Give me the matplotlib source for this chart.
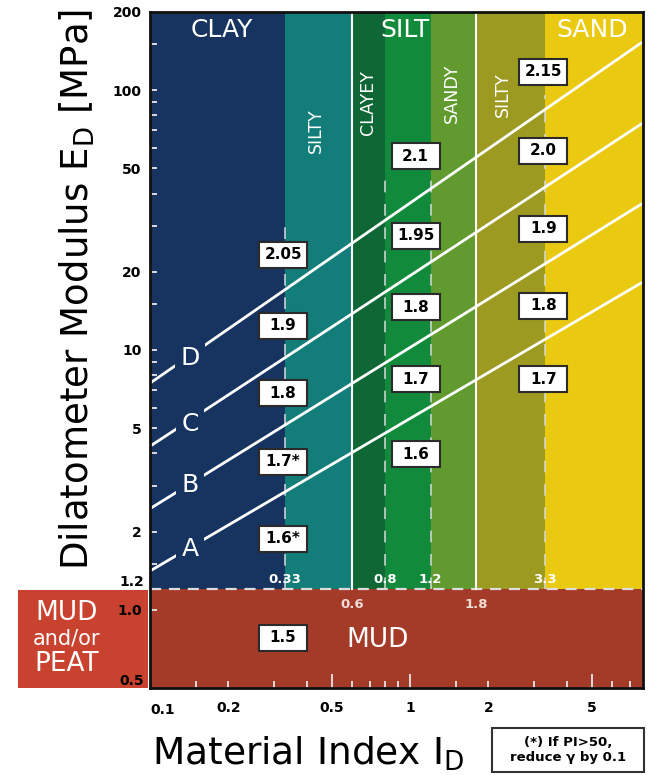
import matplotlib.pyplot as plt
from matplotlib import transforms
from matplotlib.patches import Rectangle
from matplotlib.ticker import NullFormatter

plt.rcParams['font.family'] = 'DejaVu Sans'
plt.rcParams['mathtext.default'] = 'regular'

# soil zones (material index boundaries) and colours
zone_edges = [0.1, 0.33, 0.6, 0.8, 1.2, 1.8, 3.3, 7.86]
zone_colors = ['#17335f', '#137d7a', '#106736', '#118b3b', '#619a2f', '#9d9a21', '#eac911']
mud_color = '#a43a28'
peat_color = '#c9422f'

# constant-line labels A..D : ED at ID=0.1 and ID=7.8
line_names = ['A', 'B', 'C', 'D']
line_id = [0.1, 7.8]
line_e_start = [1.41, 2.45, 4.26, 7.45]
line_e_end = [18.2, 36.6, 74.5, 153]
letter_id = 0.1425
letter_e = [1.71, 3.03, 5.18, 9.3]

# unit weight boxes (ID, ED, text)
box_id = [0.325, 0.325, 0.325, 0.325, 0.325,
          1.05, 1.05, 1.05, 1.05, 1.05,
          3.25, 3.25, 3.25, 3.25, 3.25, 0.325]
box_e = [23.3, 12.4, 6.82, 3.72, 1.88,
         55.6, 27.5, 14.6, 7.72, 3.97,
         118, 58.6, 29.3, 14.8, 7.72, 0.78]
box_text = ['2.05', '1.9', '1.8', '1.7*', '1.6*',
            '2.1', '1.95', '1.8', '1.7', '1.6',
            '2.15', '2.0', '1.9', '1.8', '1.7', '1.5']

# dashed sub-boundaries and where they start (top ED)
dash_id = [0.33, 0.8, 1.2, 3.3]
dash_top = [30, 47, 47, 96]
solid_id = [0.6, 1.8]

fig = plt.figure(figsize=(6.52, 7.75), dpi=100)
ax = fig.add_axes([150 / 652, 87 / 775, 493 / 652, 676 / 775])
ax.set_xscale('log')
ax.set_yscale('log')
ax.set_autoscale_on(False)
ax.set_xlim(zone_edges[0], zone_edges[-1])
ax.set_ylim(0.5, 200)

for x0, x1, c in zip(zone_edges[:-1], zone_edges[1:], zone_colors):
    ax.fill_between([x0, x1], 1.2, 200, color=c, lw=0, zorder=1)
ax.axhspan(0.5, 1.2, color=mud_color, lw=0, zorder=1)
ax.axhline(1.2, color='#dcdcdc', lw=1.6, dashes=(5, 3.5), zorder=2)

for x in solid_id:
    ax.plot([x, x], [1.2, 200], color='white', lw=1.5, zorder=2)
for x, top in zip(dash_id, dash_top):
    ax.plot([x, x], [1.2, top], color='#d8d8d8', lw=1.4, dashes=(6, 6), alpha=0.8, zorder=2)

for name, e0, e1, ey in zip(line_names, line_e_start, line_e_end, letter_e):
    ax.plot(line_id, [e0, e1], color='white', lw=2, zorder=3, solid_capstyle='butt')
    ax.text(letter_id, ey, name, color='white', fontsize=18, ha='center', va='center',
            zorder=4, bbox=dict(boxstyle='square,pad=0.2', fc=zone_colors[0], ec='none'))

for x, y, t in zip(box_id, box_e, box_text):
    tr = fig.dpi_scale_trans + transforms.ScaledTranslation(x, y, ax.transData)
    ax.add_patch(Rectangle((-0.24, -0.13), 0.48, 0.26, transform=tr, fc='white',
                           ec='#2b2b2b', lw=1.5, zorder=5))
    ax.text(x, y, t, fontsize=11, fontweight='bold', ha='center', va='center', zorder=6)

# zone names
for x, t in zip([0.189, 0.96, 5.0], ['CLAY', 'SILT', 'SAND']):
    ax.text(x, 171, t, color='white', fontsize=18, ha='center', va='center', zorder=4)
for x, y, t in zip([0.435, 0.69, 1.45, 2.28], [70, 90, 97, 96],
                   ['SILTY', 'CLAYEY', 'SANDY', 'SILTY']):
    ax.text(x, y, t, color='white', fontsize=12.5, rotation=90, ha='center', va='center', zorder=4)

for x, t in zip(dash_id, ['0.33', '0.8', '1.2', '3.3']):
    ax.text(x, 1.24, t, color='white', fontsize=9.5, fontweight='bold', ha='center', va='bottom', zorder=4)
for x, t in zip(solid_id, ['0.6', '1.8']):
    ax.text(x, 1.05, t, color='#f2dcd6', fontsize=9.5, fontweight='bold', ha='center', va='center', zorder=4)
ax.text(0.753, 0.766, 'MUD', color='white', fontsize=19, ha='center', va='center', zorder=4)

# ticks
ax.set_yticks([200, 100, 50, 20, 10, 5, 2, 1.0],
              labels=['200', '100', '50', '20', '10', '5', '2', '1.0'])
ax.set_yticks([150, 90, 80, 70, 60, 40, 30, 15, 9, 8, 7, 6, 4, 3, 1.5], minor=True)
ax.yaxis.set_minor_formatter(NullFormatter())
ax.set_xticks([0.5, 1, 5], labels=['0.5', '1', '5'])
minor_x = [0.15, 0.2, 0.3, 0.4, 0.6, 0.7, 0.8, 0.9, 1.5, 2, 3, 4, 6, 7]
ax.set_xticks(minor_x, labels=['0.2' if v == 0.2 else '2' if v == 2 else '' for v in minor_x], minor=True)
ax.tick_params(axis='both', which='both', direction='in', color='#e6e6e6', width=1.3,
               labelsize=10)
ax.tick_params(axis='y', which='both', length=5, pad=6)
ax.tick_params(axis='x', which='major', length=10, pad=9)
ax.tick_params(axis='x', which='minor', length=5, pad=9)
for lab in ax.get_xticklabels(which='both') + ax.get_yticklabels():
    lab.set_fontweight('bold')
ylab_tr = transforms.blended_transform_factory(ax.transAxes, ax.transData)
ax.text(-0.012, 1.2, '1.2', transform=ylab_tr, fontsize=10, fontweight='bold', ha='right', va='bottom')
ax.text(-0.012, 0.5, '0.5', transform=ylab_tr, fontsize=10, fontweight='bold', ha='right', va='bottom')
xlab_tr = transforms.blended_transform_factory(ax.transData, ax.transAxes)
ax.text(0.1, -0.022, '0.1', transform=xlab_tr, fontsize=10, fontweight='bold', ha='left', va='top')

for s in ax.spines.values():
    s.set_linewidth(2)
    s.set_color('#111111')
    s.set_zorder(7)

# mud / peat legend block left of the axis
fig.add_artist(Rectangle((18 / 652, 87 / 775), 130 / 652, 98 / 775, transform=fig.transFigure,
                         fc=peat_color, ec='none', zorder=-1))
fig.text(67 / 652, 1 - 613 / 775, 'MUD', color='white', fontsize=19, ha='center', va='center')
fig.text(67 / 652, 1 - 638 / 775, 'and/or', color='white', fontsize=15, ha='center', va='center')
fig.text(67 / 652, 1 - 664 / 775, 'PEAT', color='white', fontsize=19, ha='center', va='center')

fig.text(89 / 652, 1 - 289 / 775, 'Dilatometer Modulus E$_\\mathregular{D}$ [MPa]', fontsize=26.7,
         rotation=90, rotation_mode='anchor', ha='center', va='baseline')
fig.text(152 / 652, 10 / 775, 'Material Index I$_\\mathregular{D}$', fontsize=27, ha='left', va='baseline')

fig.add_artist(Rectangle((492 / 652, 3 / 775), 152 / 652, 44 / 775, transform=fig.transFigure,
                         fc='white', ec='#333333', lw=1.5))
fig.text(568 / 652, 1 - 750 / 775, '(*) If PI>50,\nreduce \u03b3 by 0.1', fontsize=9.5,
         fontweight='bold', ha='center', va='center', linespacing=1.15)

fig.savefig('out.png', dpi=100)
